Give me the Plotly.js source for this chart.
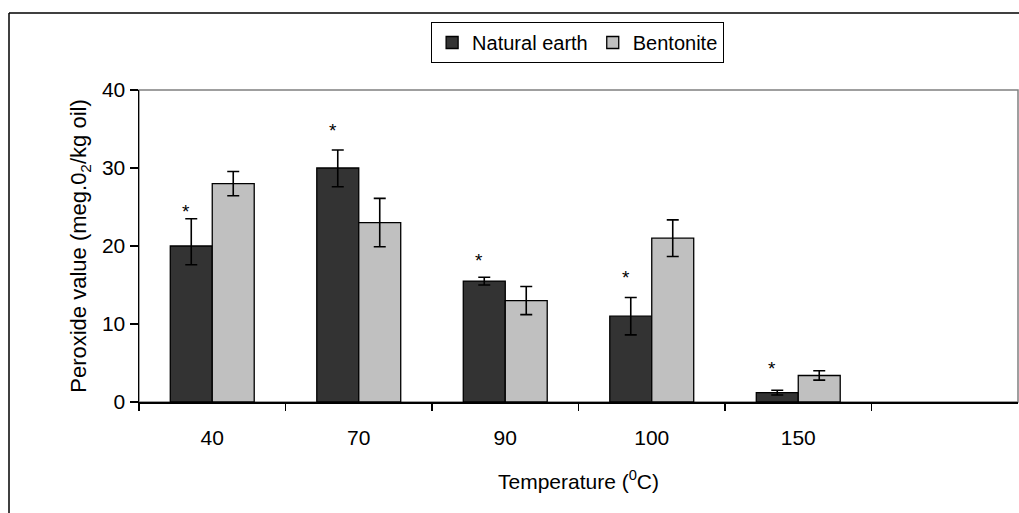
<!DOCTYPE html>
<html>
<head>
<meta charset="utf-8">
<script src="https://cdn.plot.ly/plotly-3.0.1.min.js"></script>
<style>
  html, body { margin: 0; padding: 0; background: #ffffff; }
  #chart { width: 1019px; height: 513px; }
</style>
</head>
<body>
<div id="chart"></div>
<script>
// ---- data ----
var temperatures = ['40', '70', '90', '100', '150'];
var naturalEarth = [20, 30, 15.5, 11, 1.2];
var naturalEarthErrPlus = [3.5, 2.3, 0.5, 2.4, 0.3];
var naturalEarthErrMinus = [2.4, 2.4, 0.5, 2.4, 0.3];
var bentonite = [28, 23, 13, 21, 3.4];
var bentoniteErr = [1.55, 3.1, 1.8, 2.35, 0.6];
var starLevels = [25, 35.3, 18.7, 16.5, 4.8];
var starText = ['*', '*', '*', '*', '*'];

var FONT = 'Liberation Sans, Arial, sans-serif';

// plot area geometry in px (for paper-coordinate helpers)
var W = 1019, H = 513, ML = 139, MR = 1, MT = 90, MB = 111;
var PW = W - ML - MR, PH = H - MT - MB;
function px(x) { return (x - ML) / PW; }
function py(y) { return (H - MB - y) / PH; }

var traces = [
  {
    type: 'bar', name: 'Natural earth', x: temperatures, y: naturalEarth,
    marker: { color: '#333333', line: { color: '#000000', width: 1.3 } },
    error_y: { type: 'data', symmetric: false, array: naturalEarthErrPlus, arrayminus: naturalEarthErrMinus,
               color: '#000000', thickness: 1.6, width: 6 }
  },
  {
    type: 'bar', name: 'Bentonite', x: temperatures, y: bentonite,
    marker: { color: '#c0c0c0', line: { color: '#000000', width: 1.3 } },
    error_y: { type: 'data', array: bentoniteErr, color: '#000000', thickness: 1.6, width: 6 }
  }
];

// significance stars above the Natural earth bars (x given as category index)
var annotations = temperatures.map(function (t, i) {
  return { x: i, y: starLevels[i], xref: 'x', yref: 'y', text: starText[i], showarrow: false,
           xshift: -26, yshift: -4, font: { family: FONT, size: 19, color: '#000000' } };
});

var layout = {
  width: W, height: H,
  margin: { l: ML, r: MR, t: MT, b: MB, pad: 0 },
  paper_bgcolor: '#ffffff', plot_bgcolor: '#ffffff',
  font: { family: FONT, size: 21, color: '#000000' },
  barmode: 'group', bargap: 0.427, bargroupgap: 0,
  showlegend: true,
  legend: {
    orientation: 'h', x: 0.499, xanchor: 'center', y: py(22), yanchor: 'top',
    bordercolor: '#000000', borderwidth: 1, bgcolor: '#ffffff',
    font: { family: FONT, size: 20, color: '#000000' }, itemwidth: 30, traceorder: 'normal'
  },
  xaxis: {
    type: 'category', range: [-0.5, 5.5], tickson: 'boundaries',
    ticks: 'outside', ticklen: 7, tickwidth: 1.3, tickcolor: '#000000',
    showline: true, linecolor: '#000000', linewidth: 1.5, showgrid: false, zeroline: false,
    tickfont: { family: FONT, size: 21, color: '#000000' }, ticklabelstandoff: 16,
    title: { text: 'Temperature (<sup>0</sup>C)', font: { family: FONT, size: 21, color: '#000000' }, standoff: 26 },
    fixedrange: true
  },
  yaxis: {
    range: [0, 40], dtick: 10, tick0: 0,
    ticks: 'outside', ticklen: 8, tickwidth: 1.3, tickcolor: '#000000',
    showline: true, linecolor: '#000000', linewidth: 1.5, showgrid: false, zeroline: false,
    tickfont: { family: FONT, size: 21, color: '#000000' },
    title: { text: 'Peroxide value (meg.0<sub>2</sub>/kg oil)', font: { family: FONT, size: 22, color: '#000000' }, standoff: 9 },
    fixedrange: true
  },
  shapes: [
    // plot area border (grey)
    { type: 'rect', xref: 'paper', yref: 'paper', x0: 0, x1: 1, y0: 0, y1: 1,
      line: { color: '#808080', width: 1.5 }, layer: 'below' },
    // outer chart border (top and left visible)
    { type: 'line', xref: 'paper', yref: 'paper', x0: px(9), x1: px(1030), y0: py(13), y1: py(13),
      line: { color: '#000000', width: 1.5 } },
    { type: 'line', xref: 'paper', yref: 'paper', x0: px(9), x1: px(9), y0: py(13), y1: py(530),
      line: { color: '#000000', width: 1.5 } }
  ],
  annotations: annotations
};

Plotly.newPlot('chart', traces, layout, { staticPlot: true, displayModeBar: false });
</script>
</body>
</html>
